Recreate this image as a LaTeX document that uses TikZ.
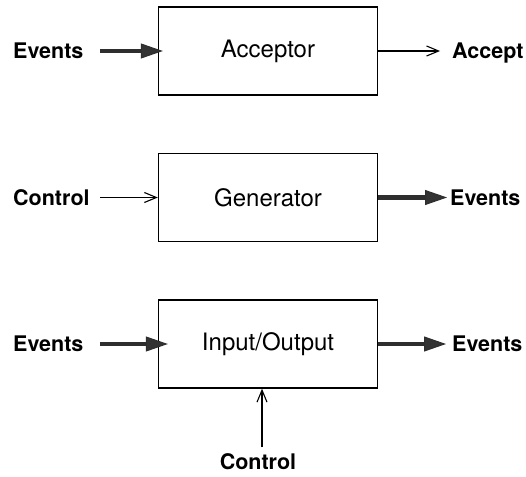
\documentclass[tikz,border=0pt]{standalone}
\usepackage{fontspec}
\setmainfont{TeX Gyre Heros}
\usetikzlibrary{arrows.meta, positioning}

\begin{document}
\begin{tikzpicture}[
  x=1pt, y=-1pt,
  block/.style={draw, line width=1.4pt, minimum width=219pt, minimum height=88pt,
                inner sep=0pt, font=\fontsize{24}{28}\selectfont},
  sig_label/.style={font=\fontsize{21.5}{25}\selectfont\bfseries, inner sep=0pt,
                    text height=15pt, text depth=0pt},
  fat_arrow/.style={draw=black!82, line width=4.5pt,
                    -{Triangle[length=22pt 0 0, width=15pt 0 0, fill=black!80, line width=1pt]}},
  thin_arrow/.style={line width=1.1pt, -{Straight Barb[length=12pt, width=10pt]}},
]
  \useasboundingbox (0,0) rectangle (526,476);

  \node[block] (acc) at (268,51)    {Acceptor};
  \node[block] (gen) at (268,197.5) {Generator};
  \node[block] (io)  at (268,344)   {Input/Output};

  % labels on the left and right
  \node[sig_label, anchor=west] (acc_in)  at (13,51)    {Events};
  \node[sig_label, anchor=west] (gen_in)  at (13,197.5) {Control};
  \node[sig_label, anchor=west] (io_in)   at (13,344)   {Events};
  \node[sig_label, anchor=west] (acc_out) at (452,51)   {Accept};
  \node[sig_label, anchor=west] (gen_out) at (450,197.5) {Events};
  \node[sig_label, anchor=west] (io_out)  at (452,344)  {Events};
  \node[sig_label] (io_ctl) at (258,462) {Control};

  \coordinate (left_start) at (100,0);

  % inputs
  \draw[fat_arrow, shorten >=-5pt] (acc_in -| left_start) -- (acc.west);
  \draw[thin_arrow] (gen_in -| left_start) -- (gen.west);
  \draw[fat_arrow, shorten >=-10pt] (io_in -| left_start) -- (io.west);
  \draw[thin_arrow, shorten <=7pt] (io_ctl.north -| 262,0) -- (io.south -| 262,0);

  % outputs
  \draw[thin_arrow, shorten >=12pt] (acc.east) -- (acc_out.west);
  \draw[fat_arrow, shorten >=3pt] (gen.east) -- (gen_out.west);
  \draw[fat_arrow, shorten >=6pt] (io.east) -- (io_out.west);
\end{tikzpicture}
\end{document}
